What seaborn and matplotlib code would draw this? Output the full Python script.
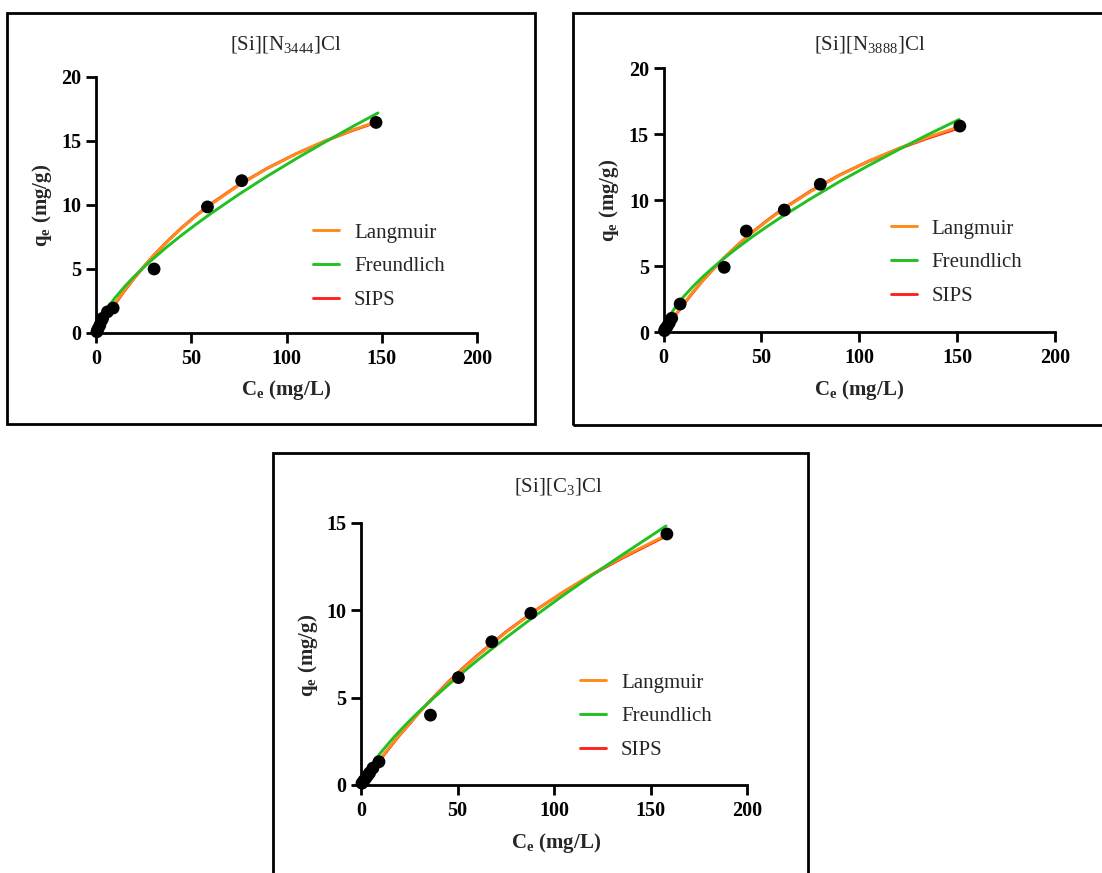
import numpy as np
import pandas as pd
import matplotlib
matplotlib.use("Agg")
import matplotlib.pyplot as plt
import seaborn as sns
from matplotlib.patches import Rectangle

# ---------------- data ----------------
titles = [r"[Si][N$_{\mathregular{3444}}$]Cl",
          r"[Si][N$_{\mathregular{3888}}$]Cl",
          r"[Si][C$_{\mathregular{3}}$]Cl"]
models = ["Langmuir", "Freundlich", "SIPS"]

# experimental points
p1_ce = [0.5, 1, 2, 3, 3.5, 6, 9, 30.5, 58.5, 76.5, 147]
p1_qe = [0.1, 0.3, 0.6, 1.0, 1.15, 1.65, 1.95, 5.0, 9.85, 11.9, 16.45]
p2_ce = [0.5, 1, 2, 3, 4.2, 8.5, 31, 42.3, 61.7, 80.1, 151.4]
p2_qe = [0.1, 0.25, 0.45, 0.7, 1.04, 2.12, 4.9, 7.65, 9.24, 11.19, 15.6]
p3_ce = [0.5, 1.5, 2.5, 3.5, 4.5, 6.2, 9.3, 36, 50.5, 67.8, 88, 158.5]
p3_qe = [0.1, 0.25, 0.4, 0.55, 0.7, 0.97, 1.33, 4.0, 6.15, 8.2, 9.83, 14.37]

# fitted curves
p1_fit_ce = [0.5, 1, 2.5, 5, 7.5, 10, 15, 20, 25, 30, 37.5, 45, 52.5, 60, 75, 90, 105, 120, 135, 148]
p1_lang = [0.125, 0.249, 0.615, 1.205, 1.772, 2.317, 3.35, 4.30, 5.19, 6.02, 7.16, 8.20, 9.14, 10.01, 11.55, 12.86, 14.00, 14.99, 15.87, 16.55]
p1_freu = [0.359, 0.575, 1.07, 1.717, 2.26, 2.75, 3.62, 4.41, 5.13, 5.80, 6.76, 7.65, 8.49, 9.30, 10.83, 12.26, 13.61, 14.90, 16.15, 17.19]
p1_sips = [0.10, 0.22, 0.57, 1.15, 1.72, 2.26, 3.30, 4.27, 5.16, 6.02, 7.17, 8.23, 9.17, 10.05, 11.58, 12.88, 14.00, 14.98, 15.84, 16.50]

p2_fit_ce = [0.5, 1, 2.5, 5, 7.5, 10, 15, 20, 25, 30, 37.5, 45, 52.5, 60, 75, 90, 105, 120, 135, 151]
p2_lang = [0.112, 0.224, 0.553, 1.085, 1.597, 2.09, 3.03, 3.90, 4.71, 5.47, 6.53, 7.49, 8.37, 9.19, 10.63, 11.88, 12.96, 13.91, 14.75, 15.55]
p2_freu = [0.355, 0.564, 1.04, 1.65, 2.17, 2.63, 3.44, 4.17, 4.84, 5.47, 6.35, 7.17, 7.95, 8.69, 10.08, 11.40, 12.63, 13.81, 14.95, 16.10]
p2_sips = [0.09, 0.20, 0.51, 1.04, 1.55, 2.04, 2.99, 3.88, 4.69, 5.48, 6.54, 7.52, 8.40, 9.23, 10.67, 11.90, 12.95, 13.87, 14.68, 15.45]

p3_fit_ce = [0.5, 1, 2.5, 5, 7.5, 10, 15, 20, 25, 30, 37.5, 45, 52.5, 60, 75, 90, 105, 120, 135, 158]
p3_lang = [0.078, 0.156, 0.387, 0.766, 1.137, 1.50, 2.20, 2.87, 3.51, 4.13, 5.01, 5.84, 6.62, 7.36, 8.73, 9.96, 11.07, 12.09, 13.02, 14.30]
p3_freu = [0.188, 0.318, 0.637, 1.08, 1.467, 1.82, 2.48, 3.09, 3.66, 4.20, 4.97, 5.71, 6.42, 7.11, 8.42, 9.67, 10.87, 12.03, 13.15, 14.83]
p3_sips = [0.06, 0.13, 0.35, 0.72, 1.09, 1.45, 2.16, 2.85, 3.48, 4.14, 5.02, 5.88, 6.66, 7.40, 8.76, 9.97, 11.06, 12.06, 12.97, 14.25]

x_ticks = [0, 50, 100, 150, 200]
y_ticks = [[0, 5, 10, 15, 20], [0, 5, 10, 15, 20], [0, 5, 10, 15]]

# ---------------- style ----------------
sns.set_theme(style="ticks")
plt.rcParams["font.family"] = ["Liberation Serif", "DejaVu Serif"]
plt.rcParams["mathtext.fontset"] = "custom"
plt.rcParams["mathtext.rm"] = "Liberation Serif"
plt.rcParams["mathtext.bf"] = "Liberation Serif:bold"

colors = {"Langmuir": "#FF8C1A", "Freundlich": "#22C022", "SIPS": "#FF2222"}
zorders = {"Langmuir": 3, "Freundlich": 4, "SIPS": 2}

W, H = 1102, 873
fig = plt.figure(figsize=(W / 100, H / 100), dpi=100)

def fx(px):
    return px / W

def fy(py):
    return 1 - py / H

# axes boxes in pixels: x0, x200, y_top, y0
boxes = [(96, 477, 77, 333), (663.5, 1055, 68, 332), (361, 747, 523, 785)]
ymax = [20, 20, 15]
title_pos = [(286, 45), (870, 45), (558, 487)]
xlab_pos = [(286, 390), (859, 390), (556, 843)]
ylab_pos = [(42, 205), (609, 200), (308, 655)]
leg_anchor = [(313, 223), (890.5, 219), (580, 673)]
frames = [(7, 13, 535, 424), (573, 13, 1110, 425), (273, 453, 808, 880)]

pts = [(p1_ce, p1_qe), (p2_ce, p2_qe), (p3_ce, p3_qe)]
fits = [(p1_fit_ce, p1_lang, p1_freu, p1_sips),
        (p2_fit_ce, p2_lang, p2_freu, p2_sips),
        (p3_fit_ce, p3_lang, p3_freu, p3_sips)]

for i in range(3):
    x0, x1, yt, yb = boxes[i]
    ax = fig.add_axes([fx(x0), fy(yb), fx(x1 - x0), (yb - yt) / H])
    ce, la, fr, si = fits[i]
    for name, vals in zip(models, [la, fr, si]):
        df = pd.DataFrame({"Ce": ce, "qe": vals})
        sns.lineplot(data=df, x="Ce", y="qe", ax=ax, color=colors[name],
                     linewidth=2.1, label=name, zorder=zorders[name],
                     sort=False, estimator=None)
    dpts = pd.DataFrame({"Ce": pts[i][0], "qe": pts[i][1]})
    sns.scatterplot(data=dpts, x="Ce", y="qe", ax=ax, color="black", s=85,
                    edgecolor="none", zorder=6, legend=False, clip_on=False)

    ax.set_xlim(0, 200)
    ax.set_ylim(0, ymax[i])
    ax.set_xticks(x_ticks)
    ax.set_yticks(y_ticks[i])
    ax.set_xlabel("")
    ax.set_ylabel("")
    ax.patch.set_alpha(0)
    for s in ["top", "right"]:
        ax.spines[s].set_visible(False)
    for s in ["left", "bottom"]:
        ax.spines[s].set_linewidth(2.0)
        ax.spines[s].set_color("black")
    ax.tick_params(axis="both", direction="out", length=7.5, width=2.0,
                   colors="black", labelsize=14.5)
    ax.tick_params(axis="x", pad=4)
    ax.tick_params(axis="y", pad=3)
    for lab in ax.get_xticklabels() + ax.get_yticklabels():
        lab.set_fontweight("bold")

    lx, ly = leg_anchor[i]
    leg = ax.legend(loc="upper left",
                    bbox_to_anchor=((lx - x0) / (x1 - x0), (yb - ly) / (yb - yt)),
                    frameon=False, fontsize=15, borderpad=0, borderaxespad=0,
                    handlelength=1.25, handletextpad=0.72, labelspacing=0.68)
    for h in leg.get_lines():
        h.set_linewidth(2.1)

    tx, ty = title_pos[i]
    fig.text(fx(tx), fy(ty), titles[i], ha="center", va="center", fontsize=15)
    cx, cy = xlab_pos[i]
    fig.text(fx(cx), fy(cy), r"C$_{\mathregular{e}}$ (mg/L)", ha="center",
             va="center", fontsize=15, fontweight="bold")
    qx, qy = ylab_pos[i]
    fig.text(fx(qx), fy(qy), r"q$_{\mathregular{e}}$ (mg/g)", ha="center",
             va="center", fontsize=15, fontweight="bold", rotation=90)

    a, b, c, d = frames[i]
    fig.patches.append(Rectangle((fx(a), fy(d)), fx(c - a), (d - b) / H,
                                 transform=fig.transFigure, fill=False,
                                 edgecolor="black", linewidth=2.0))

fig.savefig("out.png", dpi=100)
